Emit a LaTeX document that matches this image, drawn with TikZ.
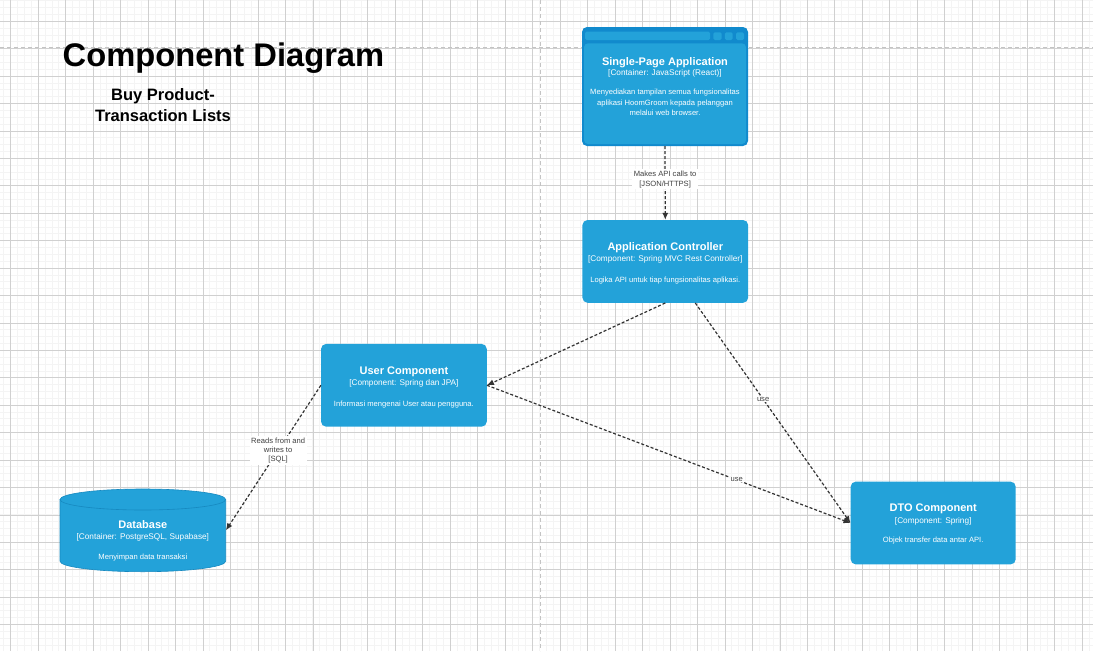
\documentclass[tikz,border=0pt]{standalone}
\usepackage{fontspec}
\setmainfont{Liberation Sans}
\usetikzlibrary{arrows.meta,calc}
\definecolor{boxblue}{HTML}{23A2D9}
\definecolor{frameblue}{HTML}{118ACD}
\definecolor{dbedge}{HTML}{1689C0}
\definecolor{edgegray}{HTML}{333333}
\definecolor{lblgray}{HTML}{404040}
\definecolor{gridmajor}{HTML}{D0D0D0}
\definecolor{gridminor}{HTML}{F4F4F4}
\definecolor{pagebrk}{HTML}{C4C4C4}
\begin{document}
\begin{tikzpicture}[x=1pt,y=-1pt,
  comp/.style={rectangle, rounded corners=5pt, fill=boxblue, minimum width=165.7pt, minimum height=82.7pt, inner sep=0pt},
  ttl/.style={anchor=base, text=white, inner sep=0pt, font=\fontsize{11}{13}\selectfont\bfseries},
  subl/.style={anchor=base, text=white, inner sep=0pt, font=\fontsize{8.25}{10}\selectfont},
  dsc/.style={text=white, inner sep=0pt, align=center, font=\fontsize{7.6}{10.8}\selectfont},
  rel/.style={draw=edgegray, line width=1.2pt, dash pattern=on 3pt off 2pt, -{Latex[length=7pt,width=6pt]}},
  lbl/.style={fill=white, text=lblgray, font=\fontsize{7.6}{10}\selectfont, align=center, inner sep=1.5pt},
  minorgrid/.style={draw=gridminor, line width=0.8pt},
  majorgrid/.style={draw=gridmajor, line width=0.7pt},
  pagebreak/.style={draw=pagebrk, line width=1.3pt, dash pattern=on 4pt off 3pt},
]
\useasboundingbox (0,0) rectangle (1093,651);
\fill[white] (0,0) rectangle (1093,651);
\begin{scope}
\clip (0,0) rectangle (1093,651);
% grid
\foreach \i in {-2,...,162} \draw[minorgrid] ({10.7+6.8675*\i},0) -- ({10.7+6.8675*\i},651);
\foreach \j in {-4,...,93} \draw[minorgrid] (0,{21.3+6.855*\j}) -- (1093,{21.3+6.855*\j});
\foreach \i in {0,...,40} \draw[majorgrid] ({10.7+27.47*\i},0) -- ({10.7+27.47*\i},651);
\foreach \j in {-1,...,23} \draw[majorgrid] (0,{21.3+27.42*\j}) -- (1093,{21.3+27.42*\j});
% page breaks
\draw[pagebreak] (540.5,0) -- (540.5,651);
\draw[pagebreak] (0,47.5) -- (1093,47.5);
\end{scope}

% title
\node[anchor=base west, inner sep=0pt, font=\fontsize{32.7}{36}\selectfont\bfseries] (title) at (62.5,66.5) {Component Diagram};
\node[inner sep=0pt, align=center, font=\fontsize{16.5}{21}\selectfont\bfseries] (subtitle) at (163,105.5) {Buy Product-\\Transaction Lists};

% Single-Page Application (web browser container)
\node[rectangle, rounded corners=5pt, fill=frameblue, minimum width=166pt, minimum height=119pt, inner sep=0pt] (spa) at (665,86.5) {};
\fill[boxblue, rounded corners=4pt] (584,43.3) rectangle (746,144);
\fill[boxblue, rounded corners=1.5pt] (585,31.7) rectangle (710,40);
\fill[boxblue, rounded corners=1.5pt] (713.3,32.3) rectangle (721.7,40);
\fill[boxblue, rounded corners=1.5pt] (724.8,32.3) rectangle (732.6,40);
\fill[boxblue, rounded corners=1.5pt] (736,32.3) rectangle (744,40);
\node[ttl] (spat) at (665,65.6) {Single-Page Application};
\node[subl] (spas) at (665,75.7) {[Container: JavaScript (React)]};
\node[dsc] (spad) at (665,102.3) {Menyediakan tampilan semua fungsionalitas\\aplikasi HoomGroom kepada pelanggan\\melalui web browser.};

% Application Controller
\node[comp] (ctrl) at (665.3,261.4) {};
\node[ttl] (ctrlt) at (665.3,250.6) {Application Controller};
\node[subl] (ctrls) at (665.3,261.3) {[Component: Spring MVC Rest Controller]};
\node[subl, font=\fontsize{7.6}{10}\selectfont] (ctrld) at (665.3,282) {Logika API untuk tiap fungsionalitas aplikasi.};

% User Component
\node[comp] (user) at (403.9,385.3) {};
\node[ttl] (usert) at (403.9,374.6) {User Component};
\node[subl] (users) at (403.9,385.7) {[Component: Spring dan JPA]};
\node[subl, font=\fontsize{7.6}{10}\selectfont] (userd) at (403.9,406) {Informasi mengenai User atau pengguna.};

% DTO Component
\node[comp, minimum width=165pt] (dto) at (933.2,523) {};
\node[ttl] (dtot) at (933.2,511.6) {DTO Component};
\node[subl] (dtos) at (933.2,523) {[Component: Spring]};
\node[subl, font=\fontsize{7.6}{10}\selectfont] (dtod) at (933.2,542) {Objek transfer data antar API.};

% Database (cylinder)
\node[rectangle, minimum width=165.7pt, minimum height=82.7pt, inner sep=0pt] (db) at (142.85,530.3) {};
\filldraw[fill=boxblue, draw=dbedge, line width=0.6pt] (60,499.5) -- (60,561.2)
  arc[start angle=180, end angle=360, x radius=82.85pt, y radius=10.5pt] -- (225.7,499.5)
  arc[start angle=0, end angle=180, x radius=82.85pt, y radius=10.5pt] -- cycle;
\draw[draw=dbedge, line width=0.6pt] (60,499.5) arc[start angle=180, end angle=360, x radius=82.85pt, y radius=10.5pt];
\node[ttl] (dbt) at (142.85,528.9) {Database};
\node[subl] (dbs) at (142.85,539.7) {[Container: PostgreSQL, Supabase]};
\node[subl, font=\fontsize{7.6}{10}\selectfont] (dbd) at (142.85,559.4) {Menyimpan data transaksi};

% relationships
\draw[rel] (spa.south) -- node[lbl, pos=0.45] {Makes API calls to\\{[JSON/HTTPS]}} (ctrl.north);
\draw[rel] (ctrl.south) -- (user.east);
\draw[rel] ($(ctrl.south)+(30,0)$) -- node[lbl, pos=0.437, inner sep=0.5pt] {use} (dto.west);
\draw[rel] (user.east) -- node[lbl, pos=0.687, inner sep=0.5pt] {use} (dto.west);
\draw[rel] (user.west) -- node[lbl, pos=0.45, font=\fontsize{7.6}{9.4}\selectfont] {Reads from and\\writes to\\{[SQL]}} (db.east);
\end{tikzpicture}
\end{document}
